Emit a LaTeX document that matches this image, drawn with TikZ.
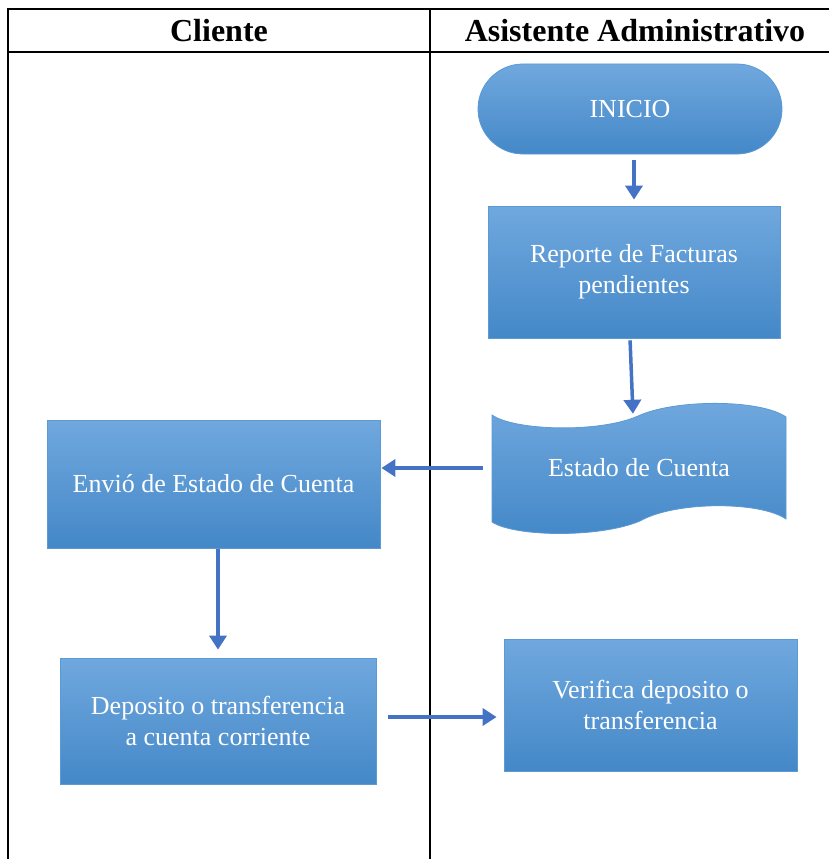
\documentclass[tikz,border=0pt]{standalone}
\usepackage{fontspec}
\setmainfont{Liberation Serif}
\usetikzlibrary{shapes.misc,arrows.meta}
\definecolor{boxtop}{HTML}{70A8DE}
\definecolor{boxbot}{HTML}{4488C8}
\definecolor{boxline}{HTML}{5B9BD5}
\definecolor{flecha}{HTML}{4472C4}
\tikzset{
  relleno/.style={top color=boxtop, bottom color=boxbot, draw=boxline, line width=0.8pt},
  caja/.style={rectangle, relleno, text=white, font=\fontsize{26}{31}\selectfont, align=center, inner sep=0pt},
  texto/.style={rectangle, text=white, font=\fontsize{26}{31}\selectfont, align=center, inner sep=0pt},
  flujo/.style={draw=flecha, line width=3.5pt, -{Triangle[length=14pt,width=17pt]}},
  titulo/.style={font=\fontsize{32}{38}\selectfont\bfseries}
}
\begin{document}
\begin{tikzpicture}[x=1pt,y=-1pt]
\useasboundingbox (0,0) rectangle (829,859);
\draw [black, line width=2pt] (7,9) -- (829,9);
\draw [black, line width=2pt] (7,52) -- (829,52);
\draw [black, line width=2pt] (8,8) -- (8,859);
\draw [black, line width=2pt] (430,8) -- (430,859);
\node [titulo] (hcliente) at (219,31) {Cliente};
\node [titulo] (hasistente) at (635,31) {Asistente Administrativo};

\node [caja, rounded rectangle, minimum width=304pt, minimum height=90pt] (inicio) at (630,109) {INICIO};
\node [caja, minimum width=292pt, minimum height=132pt] (reporte) at (634,272) {Reporte de Facturas\\pendientes};

\path [relleno] (492,415) .. controls (515,431) and (600,433) .. (638,416)
  .. controls (675,399) and (760,399) .. (786,417) -- (786,519)
  .. controls (760,501) and (675,501) .. (640,521)
  .. controls (600,538) and (515,537) .. (492,522) -- cycle;
\node [texto, minimum width=294pt, minimum height=106pt] (estado) at (639,468) {Estado de Cuenta};

\node [caja, minimum width=333pt, minimum height=128pt] (envio) at (213.5,484) {Envió de Estado de Cuenta};
\node [caja, minimum width=316pt, minimum height=126pt] (deposito) at (218,721) {Deposito o transferencia\\a cuenta corriente};
\node [caja, minimum width=293pt, minimum height=132pt] (verifica) at (650.5,705) {Verifica deposito o\\transferencia};

\draw [flujo, shorten <=6pt, shorten >=6pt] (reporte.north |- inicio.south) -- (reporte.north);
\draw [flujo, shorten <=2pt, shorten >=1pt] ([xshift=-4pt]reporte.south) -- ([xshift=-6pt]estado.north);
\draw [flujo, shorten <=9pt, shorten >=1pt] (estado.west) -- (estado.west -| envio.east);
\draw [flujo, shorten <=1pt, shorten >=8pt] (deposito.north |- envio.south) -- (deposito.north);
\draw [flujo, shorten <=12pt, shorten >=7pt] ([yshift=4pt]deposito.east) -- ([yshift=4pt]deposito.east -| verifica.west);
\end{tikzpicture}
\end{document}
